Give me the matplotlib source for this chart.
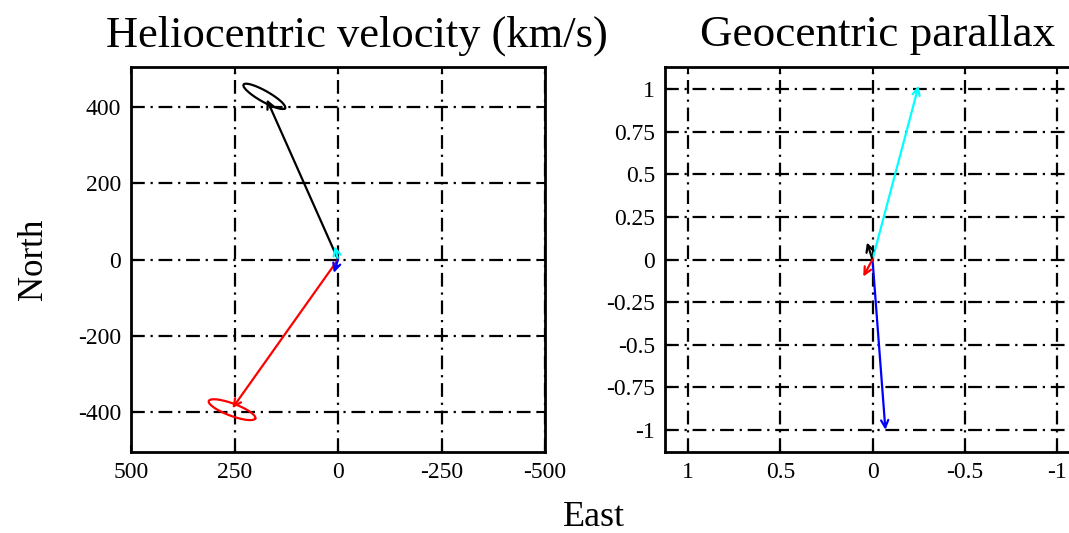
import numpy as np
import matplotlib
matplotlib.use("Agg")
import matplotlib.pyplot as plt

plt.rcParams['font.family'] = ['Liberation Serif', 'DejaVu Serif']
plt.rcParams['axes.unicode_minus'] = False

# ---- data ----
# Heliocentric velocity (km/s): vector tips (East, North)
helio_names = ["black", "red", "cyan", "blue"]
helio_east = [172, 255, 8, 10]
helio_north = [420, -390, 35, -35]
# uncertainty ellipses (center east, center north, semi-axis vector east/north, minor semi)
ell_center_east = [178, 256]
ell_center_north = [428, -394]
ell_major_east = [-50, -56]
ell_major_north = [-31, -23]
ell_minor = [14, 16]
ell_colors = ["black", "red"]

# Geocentric parallax: vector tips (East, North)
par_names = ["cyan", "blue", "black", "red"]
par_east = [-0.25, -0.07, 0.03, 0.05]
par_north = [1.02, -1.0, 0.10, -0.10]

helio_xticks = [500, 250, 0, -250, -500]
helio_yticks = [-400, -200, 0, 200, 400]
par_xticks = [1, 0.5, 0, -0.5, -1]
par_xticklabels = ["1", "0.5", "0", "-0.5", "-1"]
par_yticks = [-1, -0.75, -0.5, -0.25, 0, 0.25, 0.5, 0.75, 1]
par_yticklabels = ["-1", "-0.75", "-0.5", "-0.25", "0", "0.25", "0.5", "0.75", "1"]

fig = plt.figure(figsize=(10.69, 5.33), dpi=100)
W, H = 1069, 533

def ax_rect(x0, y0, x1, y1):
    return [x0 / W, (H - y1) / H, (x1 - x0) / W, (y1 - y0) / H]

ax1 = fig.add_axes(ax_rect(131, 67, 545, 452))
ax2 = fig.add_axes(ax_rect(665, 67, 1080, 452))

grid_ls = (0, (6.2, 2.6, 1.0, 2.6))

def style(ax):
    for s in ax.spines.values():
        s.set_linewidth(2)
    ax.tick_params(direction='in', length=5, width=1.5, top=True, right=True,
                   labelsize=17, pad=7)
    ax.grid(True, color='black', linestyle=grid_ls, linewidth=1.6)
    ax.set_axisbelow(True)

def arrow(ax, x, y, color, lw=1.6, ms=13):
    ax.annotate("", xy=(x, y), xytext=(0, 0),
                arrowprops=dict(arrowstyle='->', color=color, lw=lw,
                                mutation_scale=ms, shrinkA=0, shrinkB=0))

# left panel
ax1.set_xlim(500, -500)
ax1.set_ylim(-505, 505)
ax1.set_xticks(helio_xticks)
ax1.set_yticks(helio_yticks)
style(ax1)
t = np.linspace(0, 2 * np.pi, 200)
for i in range(2):
    mx, my = ell_major_east[i], ell_major_north[i]
    L = np.hypot(mx, my)
    nx, ny = -my / L * ell_minor[i], mx / L * ell_minor[i]
    ex = ell_center_east[i] + mx * np.cos(t) + nx * np.sin(t)
    ey = ell_center_north[i] + my * np.cos(t) + ny * np.sin(t)
    ax1.plot(ex, ey, color=ell_colors[i], lw=1.6)
for i in range(4):
    arrow(ax1, helio_east[i], helio_north[i], helio_names[i])
ax1.set_title("Heliocentric velocity (km/s)", fontsize=32, pad=15, x=0.546)
ax1.set_ylabel("North", fontsize=25, labelpad=20)

# right panel
ax2.set_xlim(1.125, -1.125)
ax2.set_ylim(-1.13, 1.13)
ax2.set_xticks(par_xticks)
ax2.set_xticklabels(par_xticklabels)
ax2.set_yticks(par_yticks)
ax2.set_yticklabels(par_yticklabels)
style(ax2)
for i in range(4):
    arrow(ax2, par_east[i], par_north[i], par_names[i])
ax2.set_title("Geocentric parallax", fontsize=32.5, pad=15, x=0.513)

fig.text(594 / W, (H - 518) / H, "East", fontsize=26, ha='center', va='center')

fig.savefig("out.png", dpi=100)
